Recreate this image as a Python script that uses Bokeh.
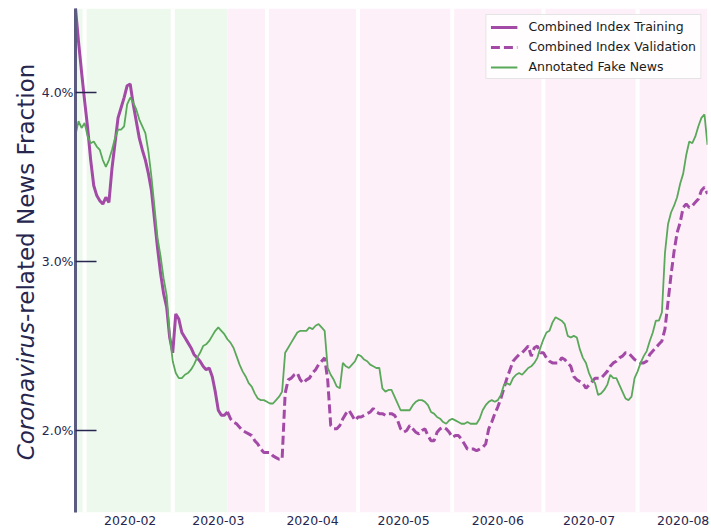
import math
import pandas as pd
from bokeh.plotting import figure
from bokeh.layouts import row
from bokeh.core.properties import value
from bokeh.models import (Range1d, FixedTicker, DatetimeTickFormatter, PrintfTickFormatter,
                          BoxAnnotation, Span, Legend, LegendItem)
from bokeh.embed import file_html
from bokeh.resources import INLINE

# ---------------- data (percent of news, daily) ----------------
start_date = "2020-01-29"
training_end = "2020-03-19"

fake_news = [
    3.75, 3.83, 3.79, 3.82, 3.74, 3.70, 3.71, 3.68, 3.66, 3.60,
    3.56, 3.60, 3.66, 3.73, 3.78, 3.78, 3.80, 3.93, 3.97, 3.94,
    3.90, 3.84, 3.80, 3.76, 3.65, 3.50, 3.32, 3.14, 3.03, 2.90,
    2.80, 2.57, 2.41, 2.34, 2.31, 2.31, 2.33, 2.34, 2.36, 2.39,
    2.43, 2.46, 2.50, 2.51, 2.53, 2.56, 2.59, 2.61, 2.59, 2.57,
    2.54, 2.52, 2.49, 2.44, 2.39, 2.35, 2.32, 2.28, 2.26, 2.22,
    2.19, 2.18, 2.18, 2.17, 2.16, 2.16, 2.18, 2.20, 2.23, 2.46,
    2.49, 2.52, 2.55, 2.58, 2.59, 2.59, 2.59, 2.61, 2.60, 2.62,
    2.63, 2.61, 2.59, 2.37, 2.33, 2.30, 2.26, 2.25, 2.40, 2.38,
    2.37, 2.39, 2.41, 2.45, 2.44, 2.42, 2.41, 2.39, 2.38, 2.37,
    2.37, 2.25, 2.23, 2.24, 2.24, 2.20, 2.16, 2.12, 2.12, 2.12,
    2.12, 2.15, 2.17, 2.18, 2.18, 2.17, 2.15, 2.11, 2.10, 2.08,
    2.07, 2.05, 2.04, 2.06, 2.07, 2.06, 2.05, 2.04, 2.04, 2.05,
    2.04, 2.04, 2.04, 2.07, 2.12, 2.15, 2.17, 2.18, 2.17, 2.18,
    2.21, 2.27, 2.28, 2.27, 2.31, 2.33, 2.34, 2.33, 2.35, 2.37,
    2.38, 2.40, 2.43, 2.49, 2.54, 2.58, 2.59, 2.64, 2.67, 2.66,
    2.65, 2.63, 2.56, 2.55, 2.56, 2.55, 2.48, 2.43, 2.40, 2.34,
    2.30, 2.28, 2.21, 2.22, 2.24, 2.27, 2.33, 2.31, 2.31, 2.27,
    2.23, 2.19, 2.18, 2.20, 2.31, 2.35, 2.40, 2.44, 2.47, 2.53,
    2.58, 2.65, 2.65, 2.70, 3.05, 3.22, 3.29, 3.33, 3.38, 3.46,
    3.52, 3.63, 3.71, 3.70, 3.74, 3.80, 3.85, 3.87, 3.69,
]

index_training = [
    4.50, 4.30, 4.12, 3.95, 3.79, 3.60, 3.45, 3.39, 3.36, 3.34,
    3.38, 3.35, 3.55, 3.70, 3.85, 3.91, 3.97, 4.04, 4.05, 3.93,
    3.83, 3.73, 3.66, 3.60, 3.52, 3.42, 3.25, 3.08, 2.93, 2.81,
    2.73, 2.55, 2.46, 2.69, 2.66, 2.58, 2.55, 2.52, 2.49, 2.45,
    2.43, 2.41, 2.38, 2.36, 2.37, 2.32, 2.23, 2.12, 2.09, 2.09,
    2.11,
]

index_validation = [
    2.11, 2.07, 2.05, 2.04, 2.02, 2.00, 1.99, 1.98, 1.97, 1.94,
    1.92, 1.89, 1.87, 1.87, 1.87, 1.85, 1.84, 1.83, 1.83, 2.22,
    2.30, 2.31, 2.33, 2.34, 2.30, 2.28, 2.30, 2.31, 2.34, 2.36,
    2.39, 2.41, 2.43, 2.30, 2.03, 2.01, 2.01, 2.03, 2.07, 2.10,
    2.12, 2.09, 2.06, 2.08, 2.08, 2.09, 2.10, 2.11, 2.13, 2.11,
    2.10, 2.10, 2.09, 2.10, 2.10, 2.09, 2.06, 2.01, 1.99, 2.00,
    2.03, 2.01, 1.99, 1.98, 2.00, 2.01, 1.97, 1.94, 1.94, 1.99,
    2.01, 2.02, 2.01, 1.99, 1.96, 1.97, 1.97, 1.95, 1.92, 1.89,
    1.89, 1.89, 1.88, 1.89, 1.90, 1.92, 2.01, 2.05, 2.10, 2.14,
    2.19, 2.25, 2.31, 2.36, 2.41, 2.43, 2.45, 2.46, 2.48, 2.50,
    2.44, 2.49, 2.50, 2.46, 2.46, 2.43, 2.41, 2.40, 2.40, 2.40,
    2.43, 2.42, 2.40, 2.38, 2.32, 2.30, 2.29, 2.28, 2.25, 2.27,
    2.29, 2.31, 2.31, 2.31, 2.33, 2.35, 2.38, 2.40, 2.41, 2.43,
    2.44, 2.46, 2.46, 2.44, 2.42, 2.41, 2.40, 2.40, 2.41, 2.45,
    2.47, 2.49, 2.51, 2.53, 2.60, 2.76, 2.92, 3.06, 3.17, 3.23,
    3.32, 3.34, 3.32, 3.33, 3.35, 3.37, 3.42, 3.44, 3.40,
]

month_starts = ["2020-02-01", "2020-03-01", "2020-04-01", "2020-05-01",
                "2020-06-01", "2020-07-01", "2020-08-01"]
tick_dates = ["2020-02-16", "2020-03-16", "2020-04-16", "2020-05-16",
              "2020-06-16", "2020-07-16", "2020-08-16"]
y_ticks = [2.0, 3.0, 4.0]
y_min, y_max = 1.515, 4.497
ylabel_italic = "Coronavirus"
ylabel_rest = "-related News Fraction"

# ---------------- styling ----------------
PURPLE = "#a24aa6"
GREEN = "#5aa85a"
NAVY = "#26264f"
SPINE = "#5b5b80"
FONT = "DejaVu Sans"
H = 529
LABEL_W = 38

# title strip geometry (strip pixels, origin bottom-left)
TITLE_MID_X = 25
TITLE_JOIN_Y = 200


def ms(d):
    return pd.Timestamp(d).timestamp() * 1000.0


dates = pd.date_range(start_date, periods=len(fake_news), freq="D")
n_train = len(index_training)
train_dates = dates[:n_train]
val_dates = dates[n_train - 1:n_train - 1 + len(index_validation)]

# ---------- narrow strip holding the rotated y-axis title ----------
lab = figure(width=LABEL_W, height=H, x_range=Range1d(0, LABEL_W), y_range=Range1d(0, H),
             x_axis_location=None, y_axis_location=None, title=None,
             output_backend="svg", toolbar_location=None, min_border=0)
lab.grid.visible = False
lab.outline_line_color = None
lab.background_fill_color = "white"
lab.border_fill_color = "white"
lab.text(x=[TITLE_MID_X], y=[TITLE_JOIN_Y], text=[ylabel_italic], angle=math.pi / 2,
         text_font=value(FONT), text_font_style="italic", text_font_size="23px",
         text_color=NAVY, text_align="right", text_baseline="middle")
lab.text(x=[TITLE_MID_X], y=[TITLE_JOIN_Y], text=[ylabel_rest], angle=math.pi / 2,
         text_font=value(FONT), text_font_style="normal", text_font_size="23px",
         text_color=NAVY, text_align="left", text_baseline="middle")

# ---------- main chart ----------
p = figure(width=710 - LABEL_W, height=H, x_axis_type="datetime",
           x_range=Range1d(dates[0], dates[-1]), y_range=Range1d(y_min, y_max),
           output_backend="svg", toolbar_location=None,
           min_border_left=75 - LABEL_W, min_border_right=3, min_border_top=8,
           min_border_bottom=17)
p.outline_line_color = None
p.xgrid.visible = False
p.ygrid.visible = False
p.background_fill_color = "white"
p.border_fill_color = "white"

# shaded phases
p.add_layout(BoxAnnotation(right=ms(training_end), fill_color="#eef9ee", fill_alpha=1.0,
                           line_color=None, level="underlay"))
p.add_layout(BoxAnnotation(left=ms(training_end), fill_color="#fdf0f9", fill_alpha=1.0,
                           line_color=None, level="underlay"))
for m in month_starts:
    p.add_layout(Span(location=ms(m), dimension="height", line_color="white",
                      line_width=4, level="underlay"))

r_train = p.line(train_dates, index_training, line_color=PURPLE, line_width=3)
r_val = p.line(val_dates, index_validation, line_color=PURPLE, line_width=3, line_dash="9 4")
r_fake = p.line(dates, fake_news, line_color=GREEN, line_width=1.8)

# axes
xa = p.xaxis[0]
xa.ticker = FixedTicker(ticks=[ms(t) for t in tick_dates])
xa.formatter = DatetimeTickFormatter(days="%Y-%m", months="%Y-%m", years="%Y-%m",
                                     hours="%Y-%m", minutes="%Y-%m", seconds="%Y-%m",
                                     milliseconds="%Y-%m", microseconds="%Y-%m",
                                     hourmin="%Y-%m", minsec="%Y-%m")
xa.axis_line_color = None
xa.major_tick_line_color = None
xa.minor_tick_line_color = None
xa.major_tick_in = 0
xa.major_tick_out = 0
xa.major_label_text_font = FONT
xa.major_label_text_font_size = "12.5px"
xa.major_label_text_color = NAVY
xa.major_label_standoff = 3

ya = p.yaxis[0]
ya.ticker = FixedTicker(ticks=y_ticks)
ya.formatter = PrintfTickFormatter(format="%.1f%%")
ya.axis_line_color = SPINE
ya.axis_line_width = 3
ya.major_tick_in = 21
ya.major_tick_out = 0
ya.major_tick_line_color = NAVY
ya.major_tick_line_width = 1.5
ya.minor_tick_line_color = None
ya.major_label_text_font = FONT
ya.major_label_text_font_size = "12.5px"
ya.major_label_text_color = NAVY
ya.major_label_standoff = 2

legend = Legend(items=[
    LegendItem(label="Combined Index Training", renderers=[r_train]),
    LegendItem(label="Combined Index Validation", renderers=[r_val]),
    LegendItem(label="Annotated Fake News", renderers=[r_fake]),
], location="top_right")
legend.margin = 6
legend.padding = 4
legend.spacing = 5
legend.glyph_width = 27
legend.glyph_height = 14
legend.label_height = 14
legend.label_standoff = 11
legend.label_text_font = FONT
legend.label_text_font_size = "12.5px"
legend.label_text_color = "#1a1a1a"
legend.border_line_color = "#cccccc"
legend.background_fill_color = "white"
legend.background_fill_alpha = 0.85
p.add_layout(legend)

layout = row(lab, p, spacing=0)
open("out.html", "w").write(file_html(layout, INLINE))
